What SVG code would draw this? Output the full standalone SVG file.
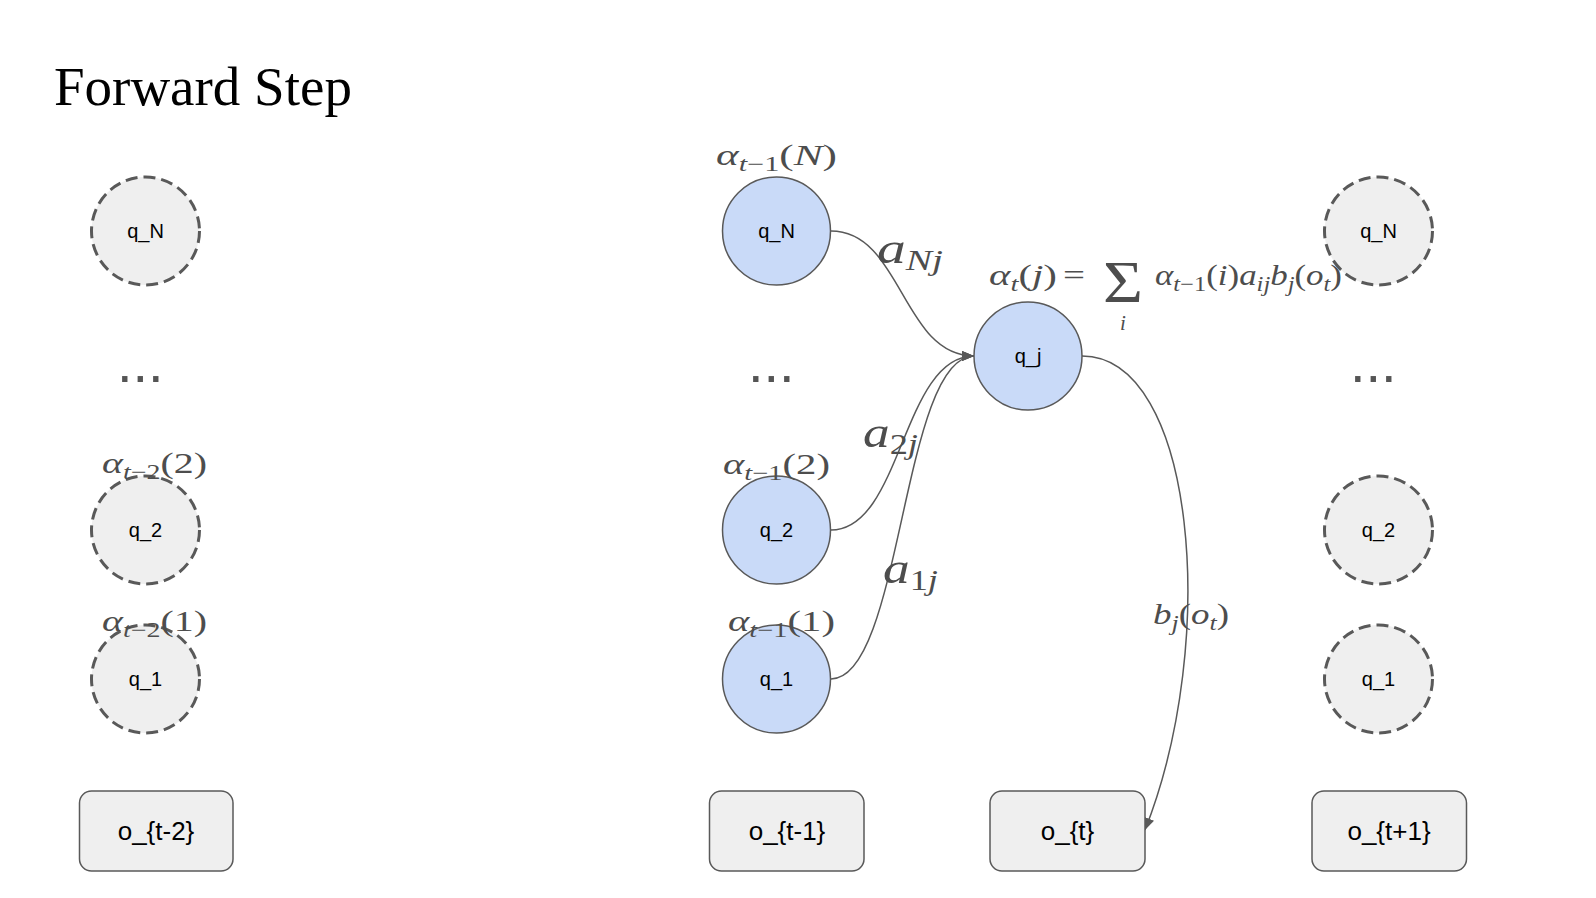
<svg xmlns="http://www.w3.org/2000/svg" width="1596" height="898" viewBox="0 0 1596 898">
<style>
.title{font-family:"Liberation Serif","Times New Roman",serif;font-size:55px;fill:#000}
.st{fill:#c9daf8;stroke:#595959;stroke-width:1.5}
.ds{fill:#efefef;stroke:#595959;stroke-width:3;stroke-dasharray:12 6}
.box{fill:#efefef;stroke:#595959;stroke-width:1.5}
.nl{font-family:"Liberation Sans",Arial,sans-serif;font-size:20px;fill:#000;text-anchor:middle}
.bl{font-family:"Liberation Sans",Arial,sans-serif;font-size:26px;fill:#000;text-anchor:middle}
.dots{font-family:"Liberation Sans",Arial,sans-serif;font-size:56px;fill:#555}
.m{font-family:"Liberation Serif","Times New Roman",serif;font-size:30px;fill:#4d4d4d}
.i{font-style:italic}
.s{font-size:21px}
.big{font-size:44px}
.bs{font-size:30px}
.edge{fill:none;stroke:#595959;stroke-width:1.5}
</style>
<defs>
<marker id="arr" markerUnits="userSpaceOnUse" markerWidth="13" markerHeight="11" refX="12" refY="5" orient="auto">
<path d="M0,0 L12,5 L0,10 z" fill="#595959"/>
</marker>
</defs>
<rect width="1596" height="898" fill="#fff"/>
<text class="title" x="54" y="105">Forward Step</text>

<g id="connectors">
<path class="edge" d="M831,231 C902,231 902,356 974,356" marker-end="url(#arr)"/>
<path class="edge" d="M831,530 C902,530 902,356 974,356" marker-end="url(#arr)"/>
<path class="edge" d="M831,679 C902,679 902,356 974,356" marker-end="url(#arr)"/>
<path class="edge" d="M1082,356 C1195,356 1220,640 1145,830" marker-end="url(#arr)"/>
</g>

<g id="left-qN"><circle class="ds" cx="145.5" cy="231" r="54"/><text class="nl" x="145.5" y="238">q_N</text></g>
<g id="left-dots"><text class="dots" x="117" y="382">...</text></g>
<g id="left-q2"><circle class="ds" cx="145.5" cy="530" r="54"/><text class="nl" x="145.5" y="537">q_2</text></g>
<g id="left-q1"><circle class="ds" cx="145.5" cy="679" r="54"/><text class="nl" x="145.5" y="686">q_1</text></g>

<g id="mid-qN"><circle class="st" cx="776.5" cy="231" r="54"/><text class="nl" x="776.5" y="238">q_N</text></g>
<g id="mid-dots"><text class="dots" x="748" y="382">...</text></g>
<g id="mid-q2"><circle class="st" cx="776.5" cy="530" r="54"/><text class="nl" x="776.5" y="537">q_2</text></g>
<g id="mid-q1"><circle class="st" cx="776.5" cy="679" r="54"/><text class="nl" x="776.5" y="686">q_1</text></g>

<g id="qj"><circle class="st" cx="1028" cy="356" r="54"/><text class="nl" x="1028" y="363">q_j</text></g>

<g id="right-qN"><circle class="ds" cx="1378.5" cy="231" r="54"/><text class="nl" x="1378.5" y="238">q_N</text></g>
<g id="right-dots"><text class="dots" x="1350" y="382">...</text></g>
<g id="right-q2"><circle class="ds" cx="1378.5" cy="530" r="54"/><text class="nl" x="1378.5" y="537">q_2</text></g>
<g id="right-q1"><circle class="ds" cx="1378.5" cy="679" r="54"/><text class="nl" x="1378.5" y="686">q_1</text></g>

<g id="o-t-2"><rect class="box" x="79.5" y="791" width="153.5" height="80" rx="12"/><text class="bl" x="156" y="840">o_{t-2}</text></g>
<g id="o-t-1"><rect class="box" x="709.5" y="791" width="154.5" height="80" rx="12"/><text class="bl" x="787" y="840">o_{t-1}</text></g>
<g id="o-t"><rect class="box" x="990" y="791" width="155" height="80" rx="12"/><text class="bl" x="1067.5" y="840">o_{t}</text></g>
<g id="o-t+1"><rect class="box" x="1312" y="791" width="154.5" height="80" rx="12"/><text class="bl" x="1389" y="840">o_{t+1}</text></g>

<g id="labels">
<text class="m" x="716" y="165" textLength="121" lengthAdjust="spacingAndGlyphs"><tspan class="i">α</tspan><tspan class="i s" dy="6">t</tspan><tspan class="s">−1</tspan><tspan dy="-6">(</tspan><tspan class="i">N</tspan>)</text>
<text class="m" x="723" y="474" textLength="107" lengthAdjust="spacingAndGlyphs"><tspan class="i">α</tspan><tspan class="i s" dy="6">t</tspan><tspan class="s">−1</tspan><tspan dy="-6">(2)</tspan></text>
<text class="m" x="728" y="631" textLength="107" lengthAdjust="spacingAndGlyphs"><tspan class="i">α</tspan><tspan class="i s" dy="6">t</tspan><tspan class="s">−1</tspan><tspan dy="-6">(1)</tspan></text>
<text class="m" x="102" y="473" textLength="105" lengthAdjust="spacingAndGlyphs"><tspan class="i">α</tspan><tspan class="i s" dy="6">t</tspan><tspan class="s">−2</tspan><tspan dy="-6">(2)</tspan></text>
<text class="m" x="102" y="631" textLength="105" lengthAdjust="spacingAndGlyphs"><tspan class="i">α</tspan><tspan class="i s" dy="6">t</tspan><tspan class="s">−2</tspan><tspan dy="-6">(1)</tspan></text>

<text class="m big" x="877" y="263" textLength="66" lengthAdjust="spacingAndGlyphs"><tspan class="i">a</tspan><tspan class="i bs" dy="7">Nj</tspan></text>
<text class="m big" x="863" y="447" textLength="55" lengthAdjust="spacingAndGlyphs"><tspan class="i">a</tspan><tspan class="bs" dy="7">2</tspan><tspan class="i bs">j</tspan></text>
<text class="m big" x="883" y="583" textLength="55" lengthAdjust="spacingAndGlyphs"><tspan class="i">a</tspan><tspan class="bs" dy="7">1</tspan><tspan class="i bs">j</tspan></text>

<text class="m" x="1153" y="624" textLength="76" lengthAdjust="spacingAndGlyphs"><tspan class="i">b</tspan><tspan class="i s" dy="6">j</tspan><tspan dy="-6">(</tspan><tspan class="i">o</tspan><tspan class="i s" dy="6">t</tspan><tspan dy="-6">)</tspan></text>

<text class="m" x="989" y="285" textLength="68" lengthAdjust="spacingAndGlyphs"><tspan class="i">α</tspan><tspan class="i s" dy="6">t</tspan><tspan dy="-6">(</tspan><tspan class="i">j</tspan>)</text>
<text class="m" x="1063" y="285" textLength="22" lengthAdjust="spacingAndGlyphs">=</text>
<text class="m" x="1103" y="302" style="font-size:60px" textLength="40" lengthAdjust="spacingAndGlyphs">Σ</text>
<text class="m i s" x="1120" y="330">i</text>
<text class="m" x="1155" y="285" textLength="187" lengthAdjust="spacingAndGlyphs"><tspan class="i">α</tspan><tspan class="i s" dy="6">t</tspan><tspan class="s">−1</tspan><tspan dy="-6">(</tspan><tspan class="i">i</tspan>)<tspan class="i">a</tspan><tspan class="i s" dy="6">ij</tspan><tspan class="i" dy="-6">b</tspan><tspan class="i s" dy="6">j</tspan><tspan dy="-6">(</tspan><tspan class="i">o</tspan><tspan class="i s" dy="6">t</tspan><tspan dy="-6">)</tspan></text>
</g>
</svg>
